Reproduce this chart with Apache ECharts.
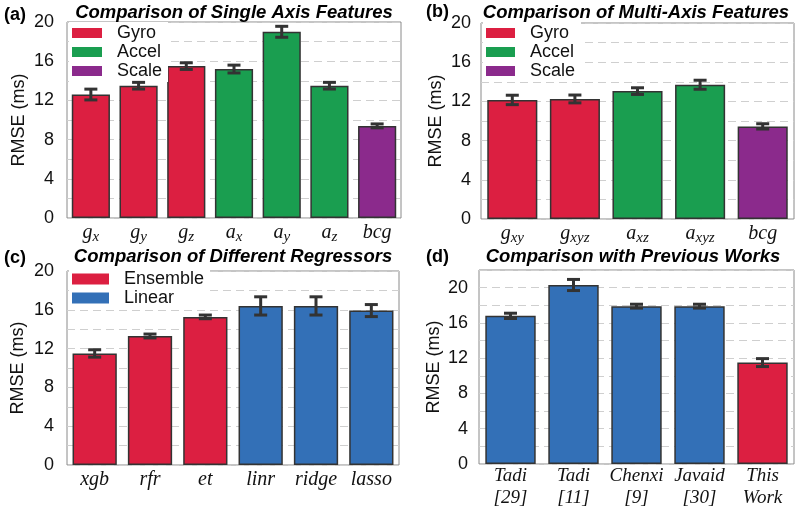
<!DOCTYPE html>
<html>
<head>
<meta charset="utf-8">
<script src="https://cdn.jsdelivr.net/npm/echarts@6/dist/echarts.min.js"></script>
<style>html,body{margin:0;padding:0;background:#fff;}#c{width:800px;height:509px;}</style>
</head>
<body>
<div id="c"></div>
<script>
// ---- data ----
const catsA = ['g_x', 'g_y', 'g_z', 'a_x', 'a_y', 'a_z', 'bcg'];
const valsA = [12.6, 13.5, 15.5, 15.2, 19.0, 13.5, 9.4];
const errA  = [0.55, 0.34, 0.34, 0.40, 0.56, 0.34, 0.2];
const grpA  = ['Gyro', 'Gyro', 'Gyro', 'Accel', 'Accel', 'Accel', 'Scale'];

const catsB = ['g_xy', 'g_xyz', 'a_xz', 'a_xyz', 'bcg'];
const valsB = [12.15, 12.25, 13.05, 13.7, 9.45];
const errB  = [0.48, 0.40, 0.34, 0.46, 0.27];
const grpB  = ['Gyro', 'Gyro', 'Accel', 'Accel', 'Scale'];

const catsC = ['xgb', 'rfr', 'et', 'linr', 'ridge', 'lasso'];
const valsC = [11.5, 13.3, 15.27, 16.4, 16.4, 15.92];
const errC  = [0.38, 0.2, 0.19, 0.94, 0.94, 0.62];
const grpC  = ['Ensemble', 'Ensemble', 'Ensemble', 'Linear', 'Linear', 'Linear'];

const catsD = ['Tadi\n[29]', 'Tadi\n[11]', 'Chenxi\n[9]', 'Javaid\n[30]', 'This\nWork'];
const valsD = [16.8, 20.3, 17.9, 17.9, 11.5];
const errD  = [0.3, 0.63, 0.22, 0.22, 0.45];
const grpD  = ['Previous', 'Previous', 'Previous', 'Previous', 'This Work'];

const titles = ['Comparison of Single Axis Features', 'Comparison of Multi-Axis Features',
                'Comparison of Different Regressors', 'Comparison with Previous Works'];
const panelTags = ['(a)', '(b)', '(c)', '(d)'];
const yMax = [20, 20, 20, 22];
const yName = 'RMSE (ms)';

// ---- style ----
const COLORS = { Gyro: '#DC1F41', Accel: '#1A9E50', Scale: '#8B2A8C',
                 Ensemble: '#DC1F41', Linear: '#3370B7', Previous: '#3370B7', 'This Work': '#DC1F41' };
const SANS = 'Liberation Sans, Arial, sans-serif';
const SERIF = 'Liberation Serif, Times New Roman, serif';

const grids = [
  { left: 67, top: 22, width: 334, height: 196 },
  { left: 481, top: 23, width: 313, height: 196 },
  { left: 67, top: 271, width: 332, height: 194 },
  { left: 479, top: 270, width: 315, height: 196 }
];
const labelMargin = [13, 10, 13, 11];
const nameGap = [39, 36, 40, 36];
const titleTop = [3, 3, 247, 247];
const titleX = [234, 636, 233, 633];
const tagPos = [[4, 6], [426, 3], [4, 249], [426, 248]];

const panels = [
  { cats: catsA, vals: valsA, err: errA, grp: grpA },
  { cats: catsB, vals: valsB, err: errB, grp: grpB },
  { cats: catsC, vals: valsC, err: errC, grp: grpC },
  { cats: catsD, vals: valsD, err: errD, grp: grpD }
];

const option = { animation: false, grid: [], xAxis: [], yAxis: [], series: [], title: [], legend: [] };

panels.forEach((p, i) => {
  option.grid.push(Object.assign({ show: true, borderColor: '#8a8a8a', borderWidth: 1, backgroundColor: 'transparent' }, grids[i]));
  const isD = i === 3;
  option.xAxis.push({
    type: 'category', gridIndex: i, data: p.cats,
    axisLine: { show: false }, axisTick: { show: false },
    axisLabel: isD ? {
      margin: 1, interval: 0, fontFamily: SERIF, fontStyle: 'italic', fontSize: 19, lineHeight: 22, color: '#111'
    } : {
      margin: 3, interval: 0, color: '#111',
      formatter: (v) => { const s = v.split('_'); return s.length > 1 ? '{m|' + s[0] + '}{s|' + s[1] + '}' : '{m|' + s[0] + '}'; },
      rich: {
        m: { fontFamily: SERIF, fontStyle: 'italic', fontSize: 20, lineHeight: 24, color: '#111' },
        s: { fontFamily: SERIF, fontStyle: 'italic', fontSize: 15, lineHeight: 15, verticalAlign: 'bottom', color: '#111' }
      }
    }
  });
  option.yAxis.push({
    type: 'value', gridIndex: i, min: 0, max: yMax[i], interval: 2,
    name: yName, nameLocation: 'middle', nameGap: nameGap[i], nameRotate: 90,
    nameTextStyle: { fontFamily: SANS, fontSize: 18, color: '#111' },
    axisLine: { show: false }, axisTick: { show: false },
    axisLabel: { margin: labelMargin[i], fontFamily: SANS, fontSize: 18, color: '#111',
                 formatter: (v) => (v % 4 === 0 ? String(v) : '') },
    splitLine: { show: true, lineStyle: { color: '#cfcfcf', width: 1, type: [8, 5] } }
  });
  const groups = [...new Set(p.grp)];
  groups.forEach((g) => {
    option.series.push({
      type: 'bar', name: g, xAxisIndex: i, yAxisIndex: i,
      barGap: '-100%', barCategoryGap: '20%',
      data: p.vals.map((v, j) => (p.grp[j] === g ? v : null)),
      itemStyle: { color: COLORS[g], borderColor: '#333', borderWidth: 1.5 },
      z: 2
    });
  });
  option.series.push({
    type: 'custom', xAxisIndex: i, yAxisIndex: i, z: 5,
    data: p.vals.map((v, j) => [j, v, p.err[j]]),
    encode: { x: 0, y: 1 },
    renderItem: (params, api) => {
      const idx = api.value(0), v = api.value(1), e = api.value(2);
      const hi = api.coord([idx, v + e]);
      const lo = api.coord([idx, v - e]);
      const hw = 6.5;
      const st = { stroke: '#333', lineWidth: 3 };
      return { type: 'group', children: [
        { type: 'line', shape: { x1: hi[0], y1: hi[1], x2: lo[0], y2: lo[1] }, style: st },
        { type: 'line', shape: { x1: hi[0] - hw, y1: hi[1], x2: hi[0] + hw, y2: hi[1] }, style: st },
        { type: 'line', shape: { x1: lo[0] - hw, y1: lo[1], x2: lo[0] + hw, y2: lo[1] }, style: st }
      ] };
    }
  });
  option.title.push({
    text: titles[i], left: titleX[i], textAlign: 'center', top: titleTop[i], padding: 0,
    textStyle: { fontFamily: SANS, fontSize: 18.5, fontWeight: 'bold', fontStyle: 'italic', color: '#000' }
  });
  option.title.push({
    text: panelTags[i], left: tagPos[i][0], top: tagPos[i][1], padding: 0,
    textStyle: { fontFamily: SANS, fontSize: 18, fontWeight: 'bold', color: '#000' }
  });
});

const legendBase = {
  orient: 'vertical', icon: 'rect', itemHeight: 10, itemGap: 1,
  backgroundColor: '#fff', padding: [2, 6, 2, 3],
  itemStyle: { borderWidth: 0 },
  textStyle: { fontFamily: SANS, fontSize: 18, color: '#111', padding: [0, 0, 0, 10] },
  selectedMode: false
};
option.legend.push(Object.assign({}, legendBase, { data: ['Gyro', 'Accel', 'Scale'], left: 69, top: 22, itemWidth: 30 }));
option.legend.push(Object.assign({}, legendBase, { data: ['Gyro', 'Accel', 'Scale'], left: 483, top: 22, itemWidth: 29 }));
option.legend.push(Object.assign({}, legendBase, { data: ['Ensemble', 'Linear'], left: 69, top: 268, itemWidth: 37, itemHeight: 11 }));

const chart = echarts.init(document.getElementById('c'), null, { renderer: 'canvas' });
chart.setOption(option);
</script>
</body>
</html>
